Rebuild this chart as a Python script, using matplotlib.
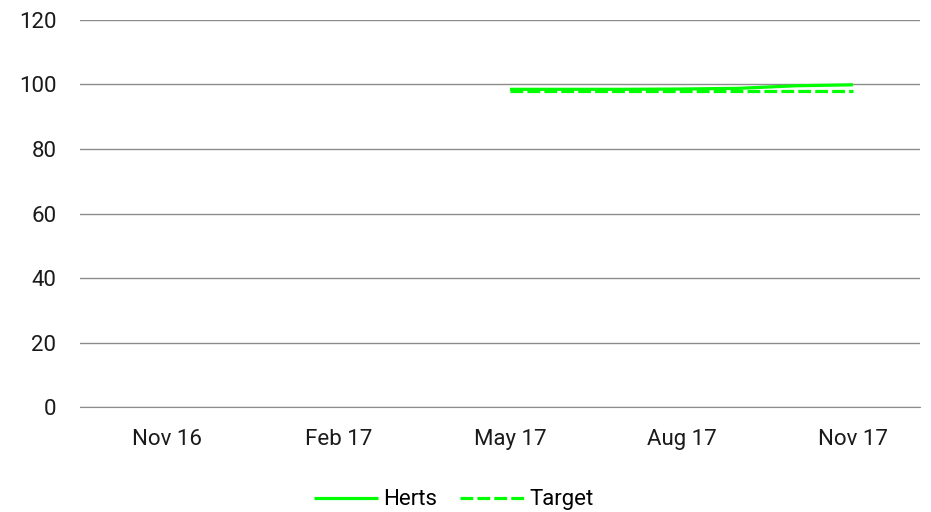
import numpy as np
from matplotlib import pyplot as plt

plt.rcParams['font.family'] = ['Roboto', 'DejaVu Sans']

# monthly axis Nov 16 .. Nov 17, label shown every 3 months
months = ["Nov 16", "Dec 16", "Jan 17", "Feb 17", "Mar 17", "Apr 17", "May 17",
          "Jun 17", "Jul 17", "Aug 17", "Sep 17", "Oct 17", "Nov 17"]
herts = [None, None, None, None, None, None, 98.5, 98.5, 98.5, 98.6, 98.8, 99.6, 99.9]
target = [None, None, None, None, None, None, 98, 98, 98, 98, 98, 98, 98]
yticks = [0, 20, 40, 60, 80, 100, 120]

x = np.arange(len(months))
h = np.array([np.nan if v is None else v for v in herts])
t = np.array([np.nan if v is None else v for v in target])

fig = plt.figure(figsize=(9.31, 5.12), dpi=100)
ax = fig.add_axes([0.086, 0.205, 0.902, 0.756])

ax.plot(x, h, color="#00ff00", lw=2.3, label="Herts", solid_capstyle="butt")
ax.plot(x, t, color="#00ff00", lw=2.3, linestyle=(0, (4, 1.3)), label="Target",
        dash_capstyle="butt")

ax.set_ylim(0, 120)
ax.set_xlim(-1.52, 13.17)
ax.set_yticks(yticks)
ax.set_xticks(x[::3])
ax.set_xticklabels(months[::3])
ax.yaxis.grid(True, color="#8c8c8c", lw=1.0)
ax.set_axisbelow(True)
for s in ["top", "right", "left"]:
    ax.spines[s].set_visible(False)
ax.spines["bottom"].set_color("#8c8c8c")
ax.tick_params(axis="both", length=0, labelsize=16, colors="#1a1a1a")
ax.tick_params(axis="y", pad=17)
ax.tick_params(axis="x", pad=16)

ax.legend(loc="center", bbox_to_anchor=(0.445, -0.24), ncol=2, frameon=False,
          fontsize=16, handlelength=2.9, handletextpad=0.25, columnspacing=1.0)

fig.savefig("out.png", dpi=100)
